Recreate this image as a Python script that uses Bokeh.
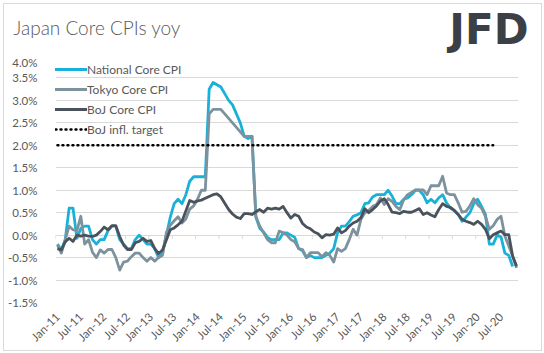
from math import pi
from bokeh.plotting import figure
from bokeh.layouts import column
from bokeh.models import FixedTicker, Label, Legend, LegendItem, Range1d
from bokeh.embed import file_html
from bokeh.resources import INLINE

# ---------------- data (monthly, Jan-11 onwards) ----------------
national = [
    -0.2, -0.33, -0.1, 0.6, 0.6, -0.07, 0.15, 0.2, 0.2, -0.1, -0.2, -0.1,
    -0.1, 0.1, 0.2, 0.2, -0.1, -0.2, -0.3, -0.3, -0.1, 0.0, -0.1, -0.2,
    -0.2, -0.3, -0.5, -0.4, 0.0, 0.4, 0.7, 0.8, 0.7, 0.9, 1.2, 1.3,
    1.3, 1.3, 1.3, 3.25, 3.4, 3.35, 3.3, 3.15, 3.0, 2.9, 2.7, 2.5,
    2.2, 2.15, 2.2, 0.4, 0.15, 0.07, -0.05, -0.1, -0.1, -0.1, 0.05, 0.05,
    0.0, -0.05, -0.3, -0.35, -0.5, -0.45, -0.5, -0.5, -0.5, -0.45, -0.4, -0.3,
    0.05, 0.2, 0.2, 0.3, 0.42, 0.45, 0.5, 0.7, 0.72, 0.85, 0.9, 0.9,
    0.9, 1.0, 0.87, 0.7, 0.7, 0.8, 0.83, 0.9, 1.0, 1.0, 0.9, 0.72,
    0.8, 0.72, 0.83, 0.9, 0.72, 0.6, 0.55, 0.46, 0.31, 0.4, 0.5, 0.7,
    0.8, 0.64, 0.46, -0.2, -0.2, 0.0, -0.04, -0.4, -0.45, -0.7,
]
tokyo = [
    -0.22, -0.4, -0.1, 0.2, 0.12, 0.1, 0.42, -0.2, -0.1, -0.38, -0.5, -0.33,
    -0.4, -0.32, -0.32, -0.5, -0.78, -0.6, -0.58, -0.48, -0.4, -0.4, -0.5, -0.58,
    -0.5, -0.58, -0.5, -0.45, 0.06, 0.22, 0.32, 0.41, 0.27, 0.36, 0.58, 0.65,
    0.8, 1.0, 1.0, 2.7, 2.8, 2.8, 2.8, 2.7, 2.6, 2.5, 2.4, 2.3,
    2.2, 2.2, 2.2, 0.42, 0.2, 0.05, -0.1, -0.17, -0.17, 0.09, 0.05, 0.0,
    -0.1, -0.15, -0.3, -0.32, -0.5, -0.39, -0.39, -0.39, -0.48, -0.39, -0.45, -0.6,
    -0.3, -0.36, -0.3, -0.1, 0.13, 0.0, 0.35, 0.5, 0.55, 0.64, 0.68, 0.83,
    0.68, 0.81, 0.75, 0.64, 0.57, 0.79, 0.9, 0.95, 1.01, 1.01, 1.01, 0.9,
    1.1, 1.1, 1.1, 1.31, 0.94, 0.9, 0.9, 0.72, 0.51, 0.53, 0.65, 0.81,
    0.68, 0.6, 0.42, 0.13, 0.21, 0.35, 0.42, -0.02, -0.24, -0.47, -0.73,
]
boj_core = [
    -0.3, -0.33, -0.15, -0.07, -0.14, 0.0, -0.02, 0.0, -0.02, -0.03, 0.0, 0.08,
    0.18, 0.12, 0.21, 0.21, -0.03, -0.22, -0.32, -0.32, -0.17, -0.14, -0.07, -0.14,
    -0.12, -0.3, -0.41, -0.33, -0.11, 0.12, 0.16, 0.23, 0.31, 0.54, 0.77, 0.73,
    0.76, 0.78, 0.82, 0.86, 0.9, 0.92, 0.85, 0.71, 0.57, 0.47, 0.4, 0.37,
    0.48, 0.48, 0.46, 0.52, 0.57, 0.51, 0.6, 0.58, 0.6, 0.58, 0.64, 0.5,
    0.38, 0.46, 0.42, 0.26, 0.18, 0.14, 0.07, 0.03, -0.06, 0.01, 0.0, 0.02,
    0.16, 0.05, 0.1, 0.2, 0.27, 0.31, 0.39, 0.59, 0.5, 0.57, 0.65, 0.76,
    0.81, 0.68, 0.51, 0.5, 0.48, 0.53, 0.51, 0.51, 0.55, 0.59, 0.46, 0.5,
    0.45, 0.41, 0.57, 0.7, 0.64, 0.62, 0.55, 0.46, 0.35, 0.31, 0.28, 0.24,
    0.31, 0.24, 0.13, -0.08, 0.01, 0.05, 0.09, 0.01, 0.01, -0.47, -0.69,
]
target = [2.0] * 113

n_months = 119
tick_labels = [
    "Jan-11", "Jul-11", "Jan-12", "Jul-12", "Jan-13", "Jul-13", "Jan-14",
    "Jul-14", "Jan-15", "Jul-15", "Jan-16", "Jul-16", "Jan-17", "Jul-17",
    "Jan-18", "Jul-18", "Jan-19", "Jul-19", "Jan-20", "Jul-20",
]
y_ticks = [-1.5, -1.0, -0.5, 0.0, 0.5, 1.0, 1.5, 2.0, 2.5, 3.0, 3.5, 4.0]

series_names = ["National Core CPI", "Tokyo Core CPI", "BoJ Core CPI", "BoJ infl. target"]
chart_title = "Japan Core CPIs yoy"
logo_text = "JFD"

# ---------------- styling ----------------
GREY_TXT = "#595959"
GRID = "#d9d9d9"
FONT = "Lato"
W = 537
HEADER_H = 51
MAIN_H = 295

# ---------- header strip (title + logo) ----------
head = figure(width=W, height=HEADER_H, x_range=Range1d(0, 1), y_range=Range1d(0, 1),
              x_axis_location=None, y_axis_location=None,
              output_backend="svg", toolbar_location=None,
              min_border_left=0, min_border_right=0, min_border_top=0, min_border_bottom=0)
head.frame_align = False
head.outline_line_color = None
head.xgrid.visible = False
head.ygrid.visible = False
head.add_layout(Label(x=9, y=28, x_units="screen", y_units="screen", text=chart_title,
                      text_font="Lato Light, Lato", text_font_size="19px", text_color=GREY_TXT,
                      text_baseline="middle", text_align="left"))
head.add_layout(Label(x=524, y=26.5, x_units="screen", y_units="screen", text=logo_text,
                      text_font="DejaVu Sans", text_font_style="bold", text_font_size="42px",
                      text_color="#3B4047", text_baseline="middle", text_align="right"))

# ---------- main chart ----------
p = figure(
    width=W, height=MAIN_H,
    x_range=Range1d(-0.5, n_months - 0.5),
    y_range=Range1d(y_ticks[0], y_ticks[-1]),
    output_backend="svg", toolbar_location=None,
    min_border_left=46, min_border_right=23, min_border_top=0, min_border_bottom=47,
)
p.frame_align = False
p.outline_line_color = None
p.background_fill_color = "white"
p.border_fill_color = "white"

p.yaxis.ticker = FixedTicker(ticks=y_ticks)
p.yaxis.major_label_overrides = {t: f"{t:.1f}%" for t in y_ticks}
p.yaxis.axis_line_color = None
p.yaxis.major_tick_line_color = None
p.yaxis.minor_tick_line_color = None
p.yaxis.major_label_standoff = 12
p.yaxis.major_label_text_font = FONT
p.yaxis.major_label_text_font_size = "11.5px"
p.yaxis.major_label_text_color = GREY_TXT

label_pos = [6 * k for k in range(len(tick_labels))]
p.xaxis.ticker = FixedTicker(ticks=label_pos)
p.xaxis.major_label_overrides = {pos: lab for pos, lab in zip(label_pos, tick_labels)}
p.xaxis.major_label_orientation = pi / 4
p.xaxis.axis_line_color = None
p.xaxis.major_tick_line_color = None
p.xaxis.minor_tick_line_color = None
p.xaxis.major_label_standoff = 6
p.xaxis.major_label_text_font = FONT
p.xaxis.major_label_text_font_size = "11.5px"
p.xaxis.major_label_text_color = GREY_TXT

p.xgrid.grid_line_color = None
p.ygrid.ticker = FixedTicker(ticks=y_ticks)
p.ygrid.grid_line_color = GRID
p.ygrid.grid_line_width = 1

# category-boundary tick marks hanging from the 0% axis line
boundaries = [6 * k - 0.5 for k in range(20)]
tick_len = 4 / (248 / (y_ticks[-1] - y_ticks[0]))
p.segment(x0=boundaries, y0=[0.0] * len(boundaries), x1=boundaries,
          y1=[-tick_len] * len(boundaries), line_color=GRID, line_width=1)

r_nat = p.line(list(range(len(national))), national, line_color="#19B1D9", line_width=2.8, line_join="round")
r_tok = p.line(list(range(len(tokyo))), tokyo, line_color="#7D929D", line_width=2.8, line_join="round")
r_boj = p.line(list(range(len(boj_core))), boj_core, line_color="#4A535C", line_width=2.8, line_join="round")
r_tgt = p.line(list(range(len(target))), target, line_color="black", line_width=2.4,
               line_dash="1 4", line_cap="round")

legend = Legend(
    items=[LegendItem(label=nm, renderers=[r]) for nm, r in zip(series_names, [r_nat, r_tok, r_boj, r_tgt])],
    location=(-5, 163), orientation="vertical",
    padding=0, margin=0, spacing=0,
    glyph_width=37, glyph_height=20, label_height=20, label_standoff=0,
    label_text_font=FONT, label_text_font_size="12px", label_text_color=GREY_TXT,
    background_fill_alpha=0, border_line_color=None,
)
p.add_layout(legend, "center")

layout = column(head, p, spacing=0)
layout.styles = {"border": "1px solid #d9d9d9", "margin-left": "3px", "margin-top": "3px"}

open("out.html", "w").write(file_html(layout, INLINE))
